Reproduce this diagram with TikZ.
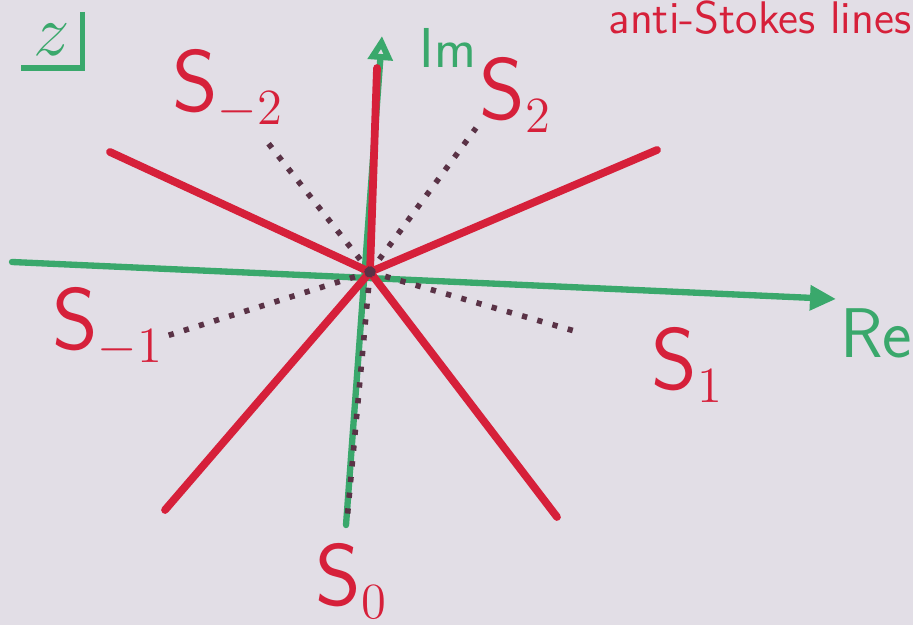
\documentclass[tikz,border=0pt]{standalone}
\usetikzlibrary{arrows.meta}

\definecolor{boardbg}{RGB}{226,222,230}
\definecolor{penred}{RGB}{214,32,58}
\definecolor{pengreen}{RGB}{58,168,108}
\definecolor{pendot}{RGB}{90,50,70}

\tikzset{
  stokes/.style={penred, line width=2.2pt, line cap=round},
  axis/.style={pengreen, line width=1.8pt, line cap=round},
  antistokes/.style={pendot, line width=1.6pt, dash pattern=on 1.5pt off 3pt},
  sector/.style={penred, inner sep=0pt, font=\fontsize{30}{30}\selectfont},
}

\begin{document}
\begin{tikzpicture}[x=0.01cm, y=-0.01cm]

    % ==================== board ====================
    \fill[boardbg] (0,0) rectangle (913,625);
    \useasboundingbox (0,0) rectangle (913,625);

    % ==================== axes ====================
    \coordinate (O) at (370,272);
    \coordinate (ReL) at (12,262);
    \coordinate (ReR) at (836,299);
    \coordinate (ImB) at (346,525);
    \coordinate (ImT) at (382,36);

    \draw[axis, -{Triangle[length=0.26cm, width=0.24cm]}] (ReL) -- (ReR);
    \node[pengreen, font=\fontsize{20}{20}\selectfont\sffamily] (re) at (876,333) {Re};

    \draw[axis, -{Triangle[open, length=0.24cm, width=0.24cm, line width=2pt]}] (ImB) -- (ImT);
    \node[pengreen, font=\fontsize{16}{16}\selectfont\sffamily] (im) at (448,48) {Im};

    % z-plane corner
    \node[pengreen, font=\fontsize{22}{22}\selectfont] (zlab) at (52,40) {$z$};
    \draw[pengreen, line width=1.6pt] (zlab.north east) -- (zlab.south east) -- (zlab.south west);

    % ==================== Stokes lines (red) ====================
    \coordinate (UL) at (110,152);
    \coordinate (UR) at (657,150);
    \coordinate (LL) at (165,510);
    \coordinate (LR) at (557,517);
    \coordinate (UP) at (377,68);

    \draw[stokes] (UL) -- (O) -- (UR);
    \draw[stokes] (LL) -- (O) -- (LR);
    \draw[stokes] (O) -- (UP);

    % ==================== anti-Stokes lines (dotted) ====================
    \coordinate (Am2) at (268,143);
    \coordinate (A2) at (476,128);
    \coordinate (Am1) at (160,338);
    \coordinate (A1) at (578,332);
    \coordinate (A0) at (347,520);

    \draw[antistokes] (O) -- (Am2);
    \draw[antistokes] (O) -- (A2);
    \draw[antistokes] (O) -- (Am1);
    \draw[antistokes] (O) -- (A1);
    \draw[antistokes] (O) -- (A0);

    % ==================== sector labels ====================
    \node[sector] (Sm2) at (228,90) {$\mathsf{S}_{\scriptscriptstyle -2}$};
    \node[sector] (S2) at (516,96) {$\mathsf{S}_{\scriptscriptstyle 2}$};
    \node[sector] (Sm1) at (108,328) {$\mathsf{S}_{\scriptscriptstyle -1}$};
    \node[sector] (S1) at (688,366) {$\mathsf{S}_{\scriptscriptstyle 1}$};
    \node[sector] (S0) at (352,582) {$\mathsf{S}_{\scriptscriptstyle 0}$};

    % title at the top edge
    \node[penred, anchor=base, font=\fontsize{13}{13}\selectfont\sffamily] (title) at (760,34) {anti-Stokes lines};

\end{tikzpicture}
\end{document}
